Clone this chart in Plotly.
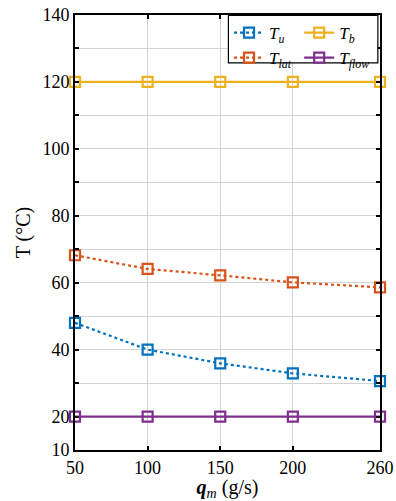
import plotly.graph_objects as go

qm = [50, 100, 150, 200, 260]
T_u = [48.0, 40.0, 35.9, 32.9, 30.6]
T_lat = [68.2, 64.1, 62.2, 60.1, 58.6]
T_b = [120, 120, 120, 120, 120]
T_flow = [20, 20, 20, 20, 20]

y_ticks = [10, 20, 40, 60, 80, 100, 120, 140]

series = [
    ("<i>T<sub>u</sub></i>", T_u, "#0072BD", "dot", "legend"),
    ("<i>T<sub>lat</sub></i>", T_lat, "#D95319", "dot", "legend"),
    ("<i>T<sub>b</sub></i>", T_b, "#EDB120", "solid", "legend2"),
    ("<i>T<sub>flow</sub></i>", T_flow, "#7E2F8E", "solid", "legend2"),
]

fig = go.Figure()
for name, ys, color, dash, lg in series:
    fig.add_trace(go.Scatter(
        x=qm, y=ys, name=name, mode="lines+markers", legend=lg,
        line=dict(color=color, width=2.2, dash=dash),
        marker=dict(symbol="square-open", size=10, color=color, line=dict(width=2.2, color=color)),
        cliponaxis=False,
    ))

font_family = "Liberation Serif"
legend_style = dict(
    orientation="v", y=1.0, yanchor="top", xanchor="left",
    bgcolor="rgba(0,0,0,0)", borderwidth=0,
    font=dict(size=17, family=font_family), itemwidth=30, tracegroupgap=0,
)
fig.update_layout(
    width=396, height=501,
    margin=dict(l=75, r=16, t=15, b=51, autoexpand=False),
    plot_bgcolor="white", paper_bgcolor="white",
    font=dict(family=font_family, color="black", size=16),
    showlegend=True,
    legend=dict(x=0.505, **legend_style),
    legend2=dict(x=0.735, **legend_style),
    shapes=[dict(type="rect", xref="paper", yref="paper", x0=0.503, x1=0.993,
                 y0=0.890, y1=0.999, fillcolor="white", layer="above",
                 line=dict(color="black", width=1.2))],
)
fig.update_xaxes(
    range=[50, 260], tickvals=qm, ticktext=[str(v) for v in qm],
    showgrid=True, gridcolor="#d4d4d4", gridwidth=1,
    showline=True, linecolor="black", linewidth=2, mirror="allticks",
    ticks="inside", ticklen=4, tickwidth=1.5, tickcolor="black",
    tickfont=dict(size=18, family=font_family),
    title=dict(text="<b><i>q</i></b><sub><i>m</i></sub> (g/s)", font=dict(size=20), standoff=2),
    zeroline=False, automargin=False,
)
fig.update_yaxes(
    range=[10, 140], tickvals=y_ticks,
    showgrid=True, gridcolor="#d4d4d4", gridwidth=1,
    minor=dict(dtick=10, tick0=0, showgrid=True, gridcolor="#d4d4d4", gridwidth=1,
               ticks="inside", ticklen=4, tickcolor="black", tickwidth=1.5),
    showline=True, linecolor="black", linewidth=2, mirror="allticks",
    ticks="inside", ticklen=4, tickwidth=1.5, tickcolor="black",
    tickfont=dict(size=18, family=font_family),
    title=dict(text="T (°C)", font=dict(size=20), standoff=6),
    zeroline=False, automargin=False,
)
fig.write_html("out.html", config={"displayModeBar": False},
               post_script="document.body.style.margin='0';")
